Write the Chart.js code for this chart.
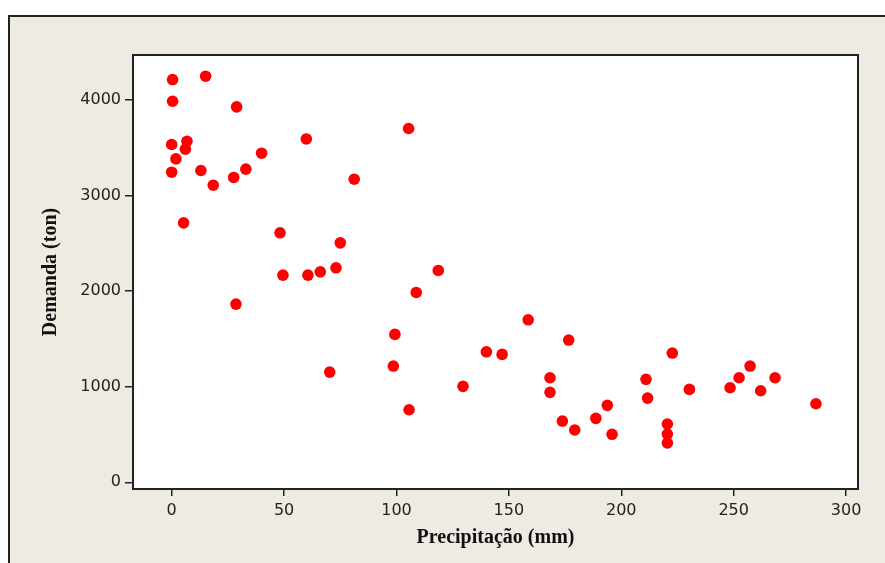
<!DOCTYPE html>
<html>
<head>
<meta charset="utf-8">
<script src="https://cdn.jsdelivr.net/npm/chart.js@4/dist/chart.umd.min.js"></script>
<style>
  body { margin: 0; background: #fff; }
  #wrap { width: 885px; height: 563px; position: relative; }
</style>
</head>
<body>
<div id="wrap"><canvas id="c" width="885" height="563"></canvas></div>
<script>
// precipitação (mm) e demanda (ton)
const precip = [0.4, 15.1, 0.4, 28.9, 105.4, 59.9, 0, 6.8, 6.1, 1.9, 40, 0, 13, 33, 27.6, 18.5, 81.2,
  5.3, 48.2, 75, 49.5, 60.6, 66.1, 73.1, 118.6, 108.8, 28.6, 70.3, 99.3, 98.6, 105.6, 129.6,
  140, 147, 158.6, 176.6, 168.3, 168.3, 173.8, 179.3, 188.7, 193.8, 195.9, 211, 211.7, 222.7,
  220.5, 220.5, 220.5, 230.3, 248.4, 252.4, 257.3, 262, 268.4, 286.6]
const demanda = [4213, 4248, 3986, 3927, 3701, 3592, 3534, 3568, 3485, 3383, 3443, 3244, 3262, 3276, 3189, 3108, 3171,
  2714, 2610, 2505, 2167, 2167, 2202, 2244, 2216, 1986, 1864, 1153, 1547, 1216, 759, 1004,
  1365, 1338, 1700, 1488, 1094, 941, 641, 547, 669, 805, 502, 1077, 881, 1352,
  610, 505, 411, 972, 989, 1094, 1216, 958, 1094, 822]
const xTicks = [0, 50, 100, 150, 200, 250, 300]
const yTicks = [0, 1000, 2000, 3000, 4000]

let pontos = []
for (let i = 0; i < precip.length; i++) {
  pontos.push({ x: precip[i], y: demanda[i] })
}

const fundo = {
  id: 'fundo',
  beforeDraw(chart) {
    const ctx = chart.ctx
    const a = chart.chartArea
    ctx.save()
    ctx.fillStyle = '#fff'
    ctx.fillRect(0, 0, chart.width, chart.height)
    // moldura bege
    ctx.fillStyle = '#EFEBE2'
    ctx.fillRect(8, 15, chart.width - 8, chart.height - 15)
    ctx.strokeStyle = '#222'
    ctx.lineWidth = 2
    ctx.beginPath()
    ctx.moveTo(9, chart.height)
    ctx.lineTo(9, 16)
    ctx.lineTo(chart.width, 16)
    ctx.stroke()
    ctx.fillStyle = '#fff'
    ctx.fillRect(a.left, a.top, a.right - a.left, a.bottom - a.top)
    ctx.restore()
  },
  afterDraw(chart) {
    const ctx = chart.ctx
    const a = chart.chartArea
    ctx.save()
    ctx.strokeStyle = '#222'
    ctx.lineWidth = 2
    ctx.strokeRect(a.left, a.top, a.right - a.left, a.bottom - a.top)
    ctx.restore()
  }
}

new Chart(document.getElementById('c'), {
  type: 'scatter',
  data: {
    datasets: [{
      data: pontos,
      backgroundColor: '#FF0000',
      borderWidth: 0,
      pointRadius: 5.8,
      pointHoverRadius: 5.8
    }]
  },
  options: {
    responsive: false,
    devicePixelRatio: 1,
    animation: false,
    layout: { padding: { left: 0, top: 55, right: 27, bottom: 0 } },
    plugins: { legend: { display: false }, tooltip: { enabled: false } },
    scales: {
      x: {
        type: 'linear',
        min: -17.2,
        max: 305.3,
        afterBuildTicks: s => { s.ticks = xTicks.map(v => ({ value: v })) },
        afterFit: s => { s.height = 74 },
        grid: { drawOnChartArea: false, tickLength: 7, color: '#222', lineWidth: 1.5 },
        border: { display: false },
        ticks: { padding: 5, color: '#222', font: { family: 'DejaVu Sans', size: 16 }, maxRotation: 0,
          callback: v => String(v) },
        title: {
          display: true,
          text: 'Precipitação (mm)',
          color: '#111',
          font: { family: 'Liberation Serif', size: 20, weight: 'bold' },
          padding: { top: 0, bottom: 13 }
        }
      },
      y: {
        type: 'linear',
        min: -70,
        max: 4470,
        afterBuildTicks: s => { s.ticks = yTicks.map(v => ({ value: v })) },
        afterFit: s => { s.width = 133 },
        grid: { drawOnChartArea: false, tickLength: 8, color: '#222', lineWidth: 1.5 },
        border: { display: false },
        ticks: { padding: 4, color: '#222', font: { family: 'DejaVu Sans', size: 16 },
          callback: v => String(v) },
        title: {
          display: true,
          text: 'Demanda (ton)',
          color: '#111',
          font: { family: 'Liberation Serif', size: 20, weight: 'bold' },
          padding: { top: 39, bottom: 0 }
        }
      }
    }
  },
  plugins: [fundo]
})
</script>
</body>
</html>
